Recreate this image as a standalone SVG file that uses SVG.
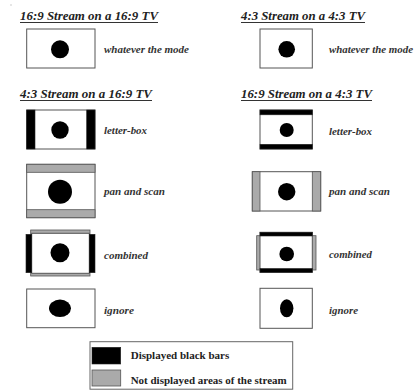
<svg xmlns="http://www.w3.org/2000/svg" width="415" height="390" viewBox="0 0 415 390">
<style>
.title{font-family:"Liberation Serif","Times New Roman",serif;font-weight:bold;font-style:italic;font-size:11.5px;fill:#222}
.lbl{font-family:"Liberation Serif","Times New Roman",serif;font-weight:bold;font-style:italic;font-size:9.5px;fill:#333}
.leg{font-family:"Liberation Serif","Times New Roman",serif;font-weight:bold;font-size:9.5px;fill:#222}
.ul{stroke:#333;stroke-width:1}
.tv{fill:#fff;stroke:#555;stroke-width:1}
.blk{fill:#000;stroke:#222;stroke-width:0.6}
.gry{fill:#aaa;stroke:#555;stroke-width:0.8}
.dot{fill:#000}
</style>
<rect width="415" height="390" fill="#fff"/>
<circle cx="11" cy="5" r="0.7" fill="#bbb"/>

<g id="titles">
<text class="title" x="20" y="20" textLength="138" lengthAdjust="spacingAndGlyphs">16:9 Stream on a 16:9 TV</text>
<line class="ul" x1="20" y1="22.5" x2="158" y2="22.5"/>
<text class="title" x="241" y="20" textLength="124" lengthAdjust="spacingAndGlyphs">4:3 Stream on a 4:3 TV</text>
<line class="ul" x1="241" y1="22.5" x2="365" y2="22.5"/>
<text class="title" x="20" y="98" textLength="132" lengthAdjust="spacingAndGlyphs">4:3 Stream on a 16:9 TV</text>
<line class="ul" x1="20" y1="100.5" x2="152" y2="100.5"/>
<text class="title" x="241" y="98" textLength="131" lengthAdjust="spacingAndGlyphs">16:9 Stream on a 4:3 TV</text>
<line class="ul" x1="241" y1="100.5" x2="372" y2="100.5"/>
</g>

<g id="l-whatever">
<rect class="tv" x="26.7" y="29" width="68.3" height="39"/>
<circle class="dot" cx="60" cy="49.3" r="9"/>
<text class="lbl" x="104" y="53" textLength="85" lengthAdjust="spacingAndGlyphs">whatever the mode</text>
</g>
<g id="r-whatever">
<rect class="tv" x="260" y="29" width="52.3" height="39"/>
<circle class="dot" cx="286.7" cy="49.3" r="8.3"/>
<text class="lbl" x="329" y="53" textLength="84" lengthAdjust="spacingAndGlyphs">whatever the mode</text>
</g>

<g id="l-letterbox">
<rect class="tv" x="26.7" y="110" width="68.3" height="39"/>
<rect class="blk" x="26.7" y="110" width="8.3" height="39"/>
<rect class="blk" x="86.7" y="110" width="8.3" height="39"/>
<circle class="dot" cx="60" cy="130" r="8.7"/>
<text class="lbl" x="104" y="133.5" textLength="43" lengthAdjust="spacingAndGlyphs">letter-box</text>
</g>
<g id="r-letterbox">
<rect class="tv" x="260" y="110" width="52.3" height="39"/>
<rect class="blk" x="260" y="110" width="52.3" height="4.8"/>
<rect class="blk" x="260" y="144.3" width="52.3" height="4.7"/>
<circle class="dot" cx="286.7" cy="130" r="7"/>
<text class="lbl" x="329" y="134.5" textLength="43" lengthAdjust="spacingAndGlyphs">letter-box</text>
</g>

<g id="l-panscan">
<rect class="tv" x="26.7" y="164.3" width="68.3" height="53.4"/>
<rect class="gry" x="26.7" y="164.3" width="68.3" height="8"/>
<rect class="gry" x="26.7" y="209.7" width="68.3" height="8"/>
<circle class="dot" cx="60" cy="191.7" r="12"/>
<text class="lbl" x="104" y="195" textLength="61" lengthAdjust="spacingAndGlyphs">pan and scan</text>
</g>
<g id="r-panscan">
<rect class="tv" x="252.3" y="171.7" width="68.4" height="39.3"/>
<rect class="gry" x="252.3" y="171.7" width="7.7" height="39.3"/>
<rect class="gry" x="312.3" y="171.7" width="8.4" height="39.3"/>
<circle class="dot" cx="286.7" cy="191.7" r="8.7"/>
<text class="lbl" x="329" y="195" textLength="61" lengthAdjust="spacingAndGlyphs">pan and scan</text>
</g>

<g id="l-combined">
<rect class="gry" x="30.7" y="230" width="59.3" height="46"/>
<rect class="tv" x="31.7" y="233.3" width="57.6" height="40"/>
<rect class="blk" x="26" y="234.3" width="5.7" height="38.4"/>
<rect class="blk" x="89.3" y="234.3" width="5.7" height="38.4"/>
<circle class="dot" cx="60" cy="252.7" r="9.5"/>
<text class="lbl" x="104" y="258.5" textLength="44" lengthAdjust="spacingAndGlyphs">combined</text>
</g>
<g id="r-combined">
<rect class="gry" x="256.7" y="235.7" width="59.3" height="34.3"/>
<rect class="tv" x="260" y="232.3" width="52.3" height="40"/>
<rect class="blk" x="260" y="232.3" width="52.3" height="3.7"/>
<rect class="blk" x="260" y="268.5" width="52.3" height="3.8"/>
<circle class="dot" cx="286.7" cy="254" r="7.3"/>
<text class="lbl" x="329" y="258" textLength="43" lengthAdjust="spacingAndGlyphs">combined</text>
</g>

<g id="l-ignore">
<rect class="tv" x="26.7" y="289" width="68.3" height="38.7"/>
<ellipse class="dot" cx="60" cy="308.3" rx="11" ry="8.7"/>
<text class="lbl" x="104" y="313.5" textLength="30" lengthAdjust="spacingAndGlyphs">ignore</text>
</g>
<g id="r-ignore">
<rect class="tv" x="260" y="288.3" width="52.3" height="40"/>
<ellipse class="dot" cx="286.7" cy="308.3" rx="6.7" ry="9"/>
<text class="lbl" x="329" y="313.5" textLength="29" lengthAdjust="spacingAndGlyphs">ignore</text>
</g>

<g id="legend">
<rect x="90" y="341.7" width="202.7" height="47.5" fill="#fff" stroke="#666" stroke-width="1"/>
<rect class="blk" x="92" y="347.3" width="28.7" height="16.7"/>
<rect class="gry" x="92" y="370" width="28.7" height="16"/>
<text class="leg" x="130.7" y="358.5" textLength="98.6" lengthAdjust="spacingAndGlyphs">Displayed black bars</text>
<text class="leg" x="130.7" y="383.5" textLength="156" lengthAdjust="spacingAndGlyphs">Not displayed areas of the stream</text>
</g>
</svg>
